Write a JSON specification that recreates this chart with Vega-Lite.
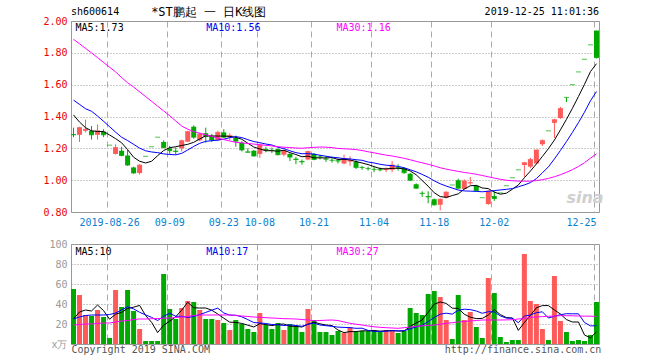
{
"$schema":"https://vega.github.io/schema/vega-lite/v6.json",
"background":"white",
"padding":{"left":0,"right":0,"top":5,"bottom":0},
"config":{"font":"DejaVu Sans Mono","view":{"stroke":"#999","strokeWidth":1},"axis":{"ticks":false,"domain":false,"labelFont":"DejaVu Sans Mono","labelFontSize":10,"gridOpacity":1,"labelOverlap":false},"concat":{"spacing":0}},
"datasets":{"k":[
{"d":"2019-08-16","o":1.29,"h":1.33,"l":1.27,"c":1.285,"v":55,"m5":1.41,"m10":1.503,"m30":1.885,"vm5":25,"vm10":25,"vm30":19},
{"d":"2019-08-19","o":1.285,"h":1.335,"l":1.24,"c":1.33,"v":49,"m5":1.365,"m10":1.476,"m30":1.857,"vm5":32,"vm10":27,"vm30":19.5},
{"d":"2019-08-20","o":1.31,"h":1.38,"l":1.3,"c":1.32,"v":29,"m5":1.33,"m10":1.449,"m30":1.828,"vm5":34,"vm10":28.5,"vm30":20},
{"d":"2019-08-21","o":1.31,"h":1.34,"l":1.255,"c":1.285,"v":28,"m5":1.31,"m10":1.433,"m30":1.8,"vm5":33,"vm10":29,"vm30":20},
{"d":"2019-08-22","o":1.285,"h":1.35,"l":1.255,"c":1.31,"v":34,"m5":1.306,"m10":1.403,"m30":1.77,"vm5":39,"vm10":29,"vm30":20.5},
{"d":"2019-08-23","o":1.305,"h":1.32,"l":1.27,"c":1.285,"v":27,"m5":1.306,"m10":1.37,"m30":1.74,"vm5":33.4,"vm10":29,"vm30":21},
{"d":"2019-08-26","o":1.22,"h":1.22,"l":1.22,"c":1.22,"v":6,"m5":1.284,"m10":1.336,"m30":1.71,"vm5":24.8,"vm10":29.5,"vm30":21},
{"d":"2019-08-27","o":1.165,"h":1.225,"l":1.16,"c":1.205,"v":54,"m5":1.261,"m10":1.302,"m30":1.68,"vm5":29.8,"vm10":31,"vm30":22},
{"d":"2019-08-28","o":1.185,"h":1.21,"l":1.15,"c":1.155,"v":37,"m5":1.235,"m10":1.27,"m30":1.645,"vm5":31.6,"vm10":34,"vm30":23},
{"d":"2019-08-29","o":1.155,"h":1.19,"l":1.09,"c":1.095,"v":54,"m5":1.192,"m10":1.249,"m30":1.612,"vm5":35.6,"vm10":37.3,"vm30":23.5},
{"d":"2019-08-30","o":1.08,"h":1.085,"l":1.04,"c":1.045,"v":33,"m5":1.144,"m10":1.225,"m30":1.585,"vm5":36.8,"vm10":35.1,"vm30":24.5},
{"d":"2019-09-02","o":1.045,"h":1.1,"l":1.035,"c":1.095,"v":15,"m5":1.119,"m10":1.2015,"m30":1.555,"vm5":38.6,"vm10":31.7,"vm30":25},
{"d":"2019-09-03","o":1.15,"h":1.15,"l":1.15,"c":1.15,"v":3,"m5":1.108,"m10":1.1845,"m30":1.525,"vm5":28.4,"vm10":29.1,"vm30":25},
{"d":"2019-09-04","o":1.21,"h":1.21,"l":1.21,"c":1.21,"v":3,"m5":1.119,"m10":1.177,"m30":1.495,"vm5":21.6,"vm10":26.6,"vm30":25.3},
{"d":"2019-09-05","o":1.27,"h":1.27,"l":1.27,"c":1.27,"v":3,"m5":1.154,"m10":1.173,"m30":1.465,"vm5":11.4,"vm10":23.5,"vm30":25.5},
{"d":"2019-09-06","o":1.24,"h":1.25,"l":1.2,"c":1.205,"v":70,"m5":1.186,"m10":1.165,"m30":1.435,"vm5":18.8,"vm10":27.8,"vm30":25.7},
{"d":"2019-09-09","o":1.2,"h":1.215,"l":1.165,"c":1.185,"v":35,"m5":1.204,"m10":1.1615,"m30":1.405,"vm5":22.8,"vm10":30.7,"vm30":26},
{"d":"2019-09-10","o":1.185,"h":1.205,"l":1.16,"c":1.18,"v":25,"m5":1.21,"m10":1.159,"m30":1.372,"vm5":27.2,"vm10":27.8,"vm30":26.5},
{"d":"2019-09-11","o":1.2,"h":1.255,"l":1.18,"c":1.248,"v":36,"m5":1.218,"m10":1.1685,"m30":1.34,"vm5":33.8,"vm10":27.7,"vm30":27},
{"d":"2019-09-12","o":1.242,"h":1.31,"l":1.24,"c":1.305,"v":43,"m5":1.225,"m10":1.1895,"m30":1.32,"vm5":41.8,"vm10":26.6,"vm30":27.5},
{"d":"2019-09-16","o":1.336,"h":1.345,"l":1.26,"c":1.27,"v":42,"m5":1.238,"m10":1.212,"m30":1.305,"vm5":36.2,"vm10":27.5,"vm30":28.5},
{"d":"2019-09-17","o":1.25,"h":1.3,"l":1.245,"c":1.29,"v":34,"m5":1.259,"m10":1.2315,"m30":1.295,"vm5":36,"vm10":29.4,"vm30":29},
{"d":"2019-09-18","o":1.295,"h":1.33,"l":1.235,"c":1.275,"v":25,"m5":1.278,"m10":1.244,"m30":1.285,"vm5":36,"vm10":31.6,"vm30":29},
{"d":"2019-09-19","o":1.277,"h":1.29,"l":1.24,"c":1.252,"v":25,"m5":1.278,"m10":1.248,"m30":1.275,"vm5":33.8,"vm10":33.8,"vm30":29},
{"d":"2019-09-20","o":1.252,"h":1.31,"l":1.245,"c":1.3,"v":24,"m5":1.277,"m10":1.251,"m30":1.265,"vm5":30,"vm10":35.9,"vm30":29},
{"d":"2019-09-23","o":1.3,"h":1.32,"l":1.265,"c":1.27,"v":21,"m5":1.277,"m10":1.2575,"m30":1.255,"vm5":25.8,"vm10":31,"vm30":29},
{"d":"2019-09-24","o":1.27,"h":1.295,"l":1.25,"c":1.28,"v":14,"m5":1.275,"m10":1.267,"m30":1.246,"vm5":21.8,"vm10":28.9,"vm30":29},
{"d":"2019-09-25","o":1.265,"h":1.28,"l":1.21,"c":1.245,"v":24,"m5":1.269,"m10":1.2735,"m30":1.238,"vm5":21.6,"vm10":28.8,"vm30":28.5},
{"d":"2019-09-26","o":1.235,"h":1.245,"l":1.18,"c":1.19,"v":20,"m5":1.257,"m10":1.2675,"m30":1.234,"vm5":20.6,"vm10":27.2,"vm30":28},
{"d":"2019-09-27","o":1.18,"h":1.2,"l":1.175,"c":1.175,"v":15,"m5":1.232,"m10":1.2545,"m30":1.231,"vm5":18.8,"vm10":24.4,"vm30":27.5},
{"d":"2019-09-30","o":1.185,"h":1.19,"l":1.148,"c":1.152,"v":12,"m5":1.208,"m10":1.2425,"m30":1.2266,"vm5":17,"vm10":21.4,"vm30":27},
{"d":"2019-10-08","o":1.165,"h":1.23,"l":1.14,"c":1.22,"v":31,"m5":1.196,"m10":1.2355,"m30":1.2229,"vm5":20.4,"vm10":21.1,"vm30":26.7},
{"d":"2019-10-09","o":1.195,"h":1.21,"l":1.175,"c":1.19,"v":19,"m5":1.185,"m10":1.227,"m30":1.2186,"vm5":19.4,"vm10":20.5,"vm30":26.3},
{"d":"2019-10-10","o":1.19,"h":1.205,"l":1.17,"c":1.187,"v":15,"m5":1.185,"m10":1.221,"m30":1.2153,"vm5":18.4,"vm10":19.5,"vm30":26},
{"d":"2019-10-11","o":1.195,"h":1.2,"l":1.155,"c":1.16,"v":21,"m5":1.182,"m10":1.207,"m30":1.2103,"vm5":19.6,"vm10":19.2,"vm30":25.7},
{"d":"2019-10-14","o":1.16,"h":1.19,"l":1.15,"c":1.185,"v":14,"m5":1.188,"m10":1.198,"m30":1.207,"vm5":20,"vm10":18.5,"vm30":25.3},
{"d":"2019-10-15","o":1.165,"h":1.17,"l":1.12,"c":1.145,"v":20,"m5":1.173,"m10":1.1845,"m30":1.2045,"vm5":17.8,"vm10":19.1,"vm30":25.2},
{"d":"2019-10-16","o":1.135,"h":1.147,"l":1.1,"c":1.13,"v":18,"m5":1.161,"m10":1.173,"m30":1.202,"vm5":17.6,"vm10":18.5,"vm30":25},
{"d":"2019-10-17","o":1.12,"h":1.13,"l":1.097,"c":1.115,"v":12,"m5":1.147,"m10":1.166,"m30":1.2006,"vm5":17,"vm10":17.7,"vm30":24.5},
{"d":"2019-10-18","o":1.13,"h":1.185,"l":1.125,"c":1.18,"v":35,"m5":1.151,"m10":1.1665,"m30":1.2035,"vm5":19.8,"vm10":19.7,"vm30":24},
{"d":"2019-10-21","o":1.165,"h":1.17,"l":1.125,"c":1.13,"v":24,"m5":1.14,"m10":1.164,"m30":1.2063,"vm5":21.8,"vm10":20.9,"vm30":23.3},
{"d":"2019-10-22","o":1.148,"h":1.16,"l":1.13,"c":1.145,"v":12,"m5":1.14,"m10":1.1565,"m30":1.208,"vm5":20.2,"vm10":19,"vm30":23.5},
{"d":"2019-10-23","o":1.135,"h":1.15,"l":1.115,"c":1.132,"v":12,"m5":1.14,"m10":1.1505,"m30":1.2074,"vm5":19,"vm10":18.3,"vm30":23.8},
{"d":"2019-10-24","o":1.127,"h":1.14,"l":1.11,"c":1.125,"v":9,"m5":1.142,"m10":1.1445,"m30":1.2045,"vm5":18.4,"vm10":17.7,"vm30":24},
{"d":"2019-10-25","o":1.124,"h":1.135,"l":1.105,"c":1.12,"v":13,"m5":1.13,"m10":1.1405,"m30":1.1995,"vm5":14,"vm10":16.9,"vm30":23.5},
{"d":"2019-10-28","o":1.105,"h":1.16,"l":1.1,"c":1.135,"v":11,"m5":1.131,"m10":1.1355,"m30":1.1972,"vm5":11.4,"vm10":16.6,"vm30":22},
{"d":"2019-10-29","o":1.118,"h":1.15,"l":1.09,"c":1.123,"v":17,"m5":1.127,"m10":1.1335,"m30":1.1951,"vm5":12.4,"vm10":16.3,"vm30":20.7},
{"d":"2019-10-30","o":1.115,"h":1.125,"l":1.07,"c":1.08,"v":12,"m5":1.117,"m10":1.1285,"m30":1.1918,"vm5":12.4,"vm10":15.7,"vm30":19.8},
{"d":"2019-10-31","o":1.082,"h":1.09,"l":1.065,"c":1.08,"v":13,"m5":1.108,"m10":1.125,"m30":1.1862,"vm5":13.2,"vm10":15.8,"vm30":19},
{"d":"2019-11-01","o":1.075,"h":1.085,"l":1.06,"c":1.073,"v":13,"m5":1.098,"m10":1.114,"m30":1.1785,"vm5":13.2,"vm10":13.6,"vm30":18},
{"d":"2019-11-04","o":1.07,"h":1.085,"l":1.05,"c":1.068,"v":13,"m5":1.085,"m10":1.108,"m30":1.1717,"vm5":13.6,"vm10":12.5,"vm30":17.2},
{"d":"2019-11-05","o":1.068,"h":1.08,"l":1.055,"c":1.065,"v":13,"m5":1.073,"m10":1.1,"m30":1.1642,"vm5":12.8,"vm10":12.6,"vm30":16.7},
{"d":"2019-11-06","o":1.065,"h":1.08,"l":1.05,"c":1.07,"v":14,"m5":1.071,"m10":1.094,"m30":1.1574,"vm5":13.2,"vm10":12.8,"vm30":16.3},
{"d":"2019-11-07","o":1.065,"h":1.12,"l":1.05,"c":1.095,"v":14,"m5":1.074,"m10":1.091,"m30":1.1522,"vm5":13.4,"vm10":13.3,"vm30":16},
{"d":"2019-11-08","o":1.08,"h":1.1,"l":1.06,"c":1.077,"v":11,"m5":1.075,"m10":1.0865,"m30":1.1447,"vm5":13,"vm10":13.1,"vm30":15.7},
{"d":"2019-11-11","o":1.075,"h":1.08,"l":1.04,"c":1.047,"v":13,"m5":1.071,"m10":1.078,"m30":1.1373,"vm5":13,"vm10":13.3,"vm30":16.3},
{"d":"2019-11-12","o":1.04,"h":1.045,"l":0.995,"c":1.0,"v":36,"m5":1.058,"m10":1.0655,"m30":1.128,"vm5":17.6,"vm10":15.2,"vm30":17},
{"d":"2019-11-13","o":0.975,"h":0.98,"l":0.945,"c":0.95,"v":31,"m5":1.034,"m10":1.0525,"m30":1.1181,"vm5":21,"vm10":17.1,"vm30":17.7},
{"d":"2019-11-14","o":0.92,"h":0.93,"l":0.895,"c":0.917,"v":29,"m5":0.998,"m10":1.036,"m30":1.109,"vm5":24,"vm10":18.7,"vm30":18.2},
{"d":"2019-11-15","o":0.9,"h":0.93,"l":0.855,"c":0.895,"v":50,"m5":0.962,"m10":1.0185,"m30":1.0997,"vm5":31.8,"vm10":22.4,"vm30":18.6},
{"d":"2019-11-18","o":0.88,"h":0.885,"l":0.84,"c":0.845,"v":53,"m5":0.921,"m10":0.996,"m30":1.0895,"vm5":39.8,"vm10":26.4,"vm30":19},
{"d":"2019-11-19","o":0.845,"h":0.885,"l":0.81,"c":0.88,"v":47,"m5":0.897,"m10":0.9775,"m30":1.0781,"vm5":42,"vm10":29.8,"vm30":19.8},
{"d":"2019-11-20","o":0.89,"h":0.93,"l":0.885,"c":0.925,"v":24,"m5":0.892,"m10":0.963,"m30":1.0693,"vm5":40.6,"vm10":30.8,"vm30":20.7},
{"d":"2019-11-21","o":0.97,"h":0.97,"l":0.97,"c":0.97,"v":5,"m5":0.903,"m10":0.9505,"m30":1.0621,"vm5":35.8,"vm10":29.9,"vm30":21.3},
{"d":"2019-11-22","o":1.0,"h":1.01,"l":0.945,"c":0.95,"v":49,"m5":0.914,"m10":0.938,"m30":1.0551,"vm5":35.6,"vm10":33.7,"vm30":22},
{"d":"2019-11-25","o":0.945,"h":1.005,"l":0.94,"c":0.995,"v":24,"m5":0.944,"m10":0.9325,"m30":1.0487,"vm5":29.8,"vm10":34.8,"vm30":22.5},
{"d":"2019-11-26","o":0.98,"h":1.02,"l":0.97,"c":0.985,"v":32,"m5":0.965,"m10":0.931,"m30":1.0434,"vm5":26.8,"vm10":34.4,"vm30":23},
{"d":"2019-11-27","o":0.965,"h":0.97,"l":0.93,"c":0.935,"v":17,"m5":0.967,"m10":0.9295,"m30":1.0369,"vm5":25.4,"vm10":33,"vm30":23.5},
{"d":"2019-11-28","o":0.89,"h":0.89,"l":0.89,"c":0.89,"v":6,"m5":0.951,"m10":0.927,"m30":1.0294,"vm5":25.6,"vm10":30.7,"vm30":24},
{"d":"2019-11-29","o":0.85,"h":0.935,"l":0.845,"c":0.93,"v":66,"m5":0.947,"m10":0.9305,"m30":1.0211,"vm5":29,"vm10":32.3,"vm30":24},
{"d":"2019-12-02","o":0.9,"h":0.93,"l":0.87,"c":0.885,"v":51,"m5":0.925,"m10":0.9345,"m30":1.0129,"vm5":34.4,"vm10":32.1,"vm30":24},
{"d":"2019-12-03","o":0.92,"h":0.92,"l":0.92,"c":0.92,"v":7,"m5":0.912,"m10":0.9385,"m30":1.0054,"vm5":29.4,"vm10":28.1,"vm30":24},
{"d":"2019-12-04","o":0.965,"h":0.965,"l":0.965,"c":0.965,"v":2,"m5":0.918,"m10":0.9425,"m30":0.9998,"vm5":26.4,"vm10":25.9,"vm30":24.1},
{"d":"2019-12-05","o":1.015,"h":1.015,"l":1.015,"c":1.015,"v":4,"m5":0.943,"m10":0.947,"m30":0.9962,"vm5":26,"vm10":25.8,"vm30":24.3},
{"d":"2019-12-06","o":1.065,"h":1.065,"l":1.065,"c":1.065,"v":4,"m5":0.97,"m10":0.9585,"m30":0.9943,"vm5":13.6,"vm10":21.3,"vm30":25},
{"d":"2019-12-09","o":1.095,"h":1.115,"l":1.02,"c":1.11,"v":90,"m5":1.015,"m10":0.97,"m30":0.9935,"vm5":21.4,"vm10":27.9,"vm30":25.5},
{"d":"2019-12-10","o":1.085,"h":1.14,"l":1.075,"c":1.13,"v":43,"m5":1.057,"m10":0.9845,"m30":0.9937,"vm5":28.6,"vm10":29,"vm30":26.7},
{"d":"2019-12-11","o":1.105,"h":1.19,"l":1.1,"c":1.19,"v":40,"m5":1.102,"m10":1.01,"m30":0.9974,"vm5":36.2,"vm10":31.3,"vm30":27},
{"d":"2019-12-12","o":1.225,"h":1.255,"l":1.215,"c":1.25,"v":15,"m5":1.149,"m10":1.046,"m30":1.0031,"vm5":38.4,"vm10":32.2,"vm30":27.4},
{"d":"2019-12-13","o":1.31,"h":1.31,"l":1.31,"c":1.31,"v":4,"m5":1.198,"m10":1.084,"m30":1.011,"vm5":38.4,"vm10":26,"vm30":27.7},
{"d":"2019-12-16","o":1.36,"h":1.385,"l":1.265,"c":1.38,"v":68,"m5":1.252,"m10":1.1335,"m30":1.0214,"vm5":34,"vm10":27.7,"vm30":28},
{"d":"2019-12-17","o":1.39,"h":1.46,"l":1.385,"c":1.45,"v":23,"m5":1.316,"m10":1.1865,"m30":1.0342,"vm5":30,"vm10":29.3,"vm30":28.3},
{"d":"2019-12-18","o":1.52,"h":1.52,"l":1.49,"c":1.52,"v":12,"m5":1.382,"m10":1.242,"m30":1.0492,"vm5":24.4,"vm10":30.3,"vm30":28.3},
{"d":"2019-12-19","o":1.6,"h":1.6,"l":1.6,"c":1.6,"v":3,"m5":1.452,"m10":1.3005,"m30":1.066,"vm5":22,"vm10":30.2,"vm30":28.2},
{"d":"2019-12-20","o":1.68,"h":1.68,"l":1.68,"c":1.68,"v":4,"m5":1.526,"m10":1.362,"m30":1.0861,"vm5":22,"vm10":30.2,"vm30":28},
{"d":"2019-12-23","o":1.76,"h":1.76,"l":1.76,"c":1.76,"v":3,"m5":1.602,"m10":1.427,"m30":1.1099,"vm5":9,"vm10":21.5,"vm30":27.9},
{"d":"2019-12-24","o":1.85,"h":1.85,"l":1.85,"c":1.85,"v":9,"m5":1.682,"m10":1.499,"m30":1.1382,"vm5":6.2,"vm10":18.1,"vm30":27.8},
{"d":"2019-12-25","o":1.94,"h":1.94,"l":1.765,"c":1.77,"v":42,"m5":1.732,"m10":1.557,"m30":1.1656,"vm5":12.2,"vm10":18.3,"vm30":27.7}
]},
"vconcat":[
{
"width":528,"height":191,
"data":{"name":"k"},
"encoding":{"x":{"field":"d","type":"ordinal","sort":null,"scale":{"paddingInner":0.17,"paddingOuter":0},
  "axis":{"values":["2019-08-26","2019-09-09","2019-09-23","2019-10-08","2019-10-21","2019-11-04","2019-11-18","2019-12-02","2019-12-25"],"labelExpr":"datum.value == '2019-08-26' ? datum.value : slice(datum.value, 5)","bandPosition":0,"grid":true,"gridDash":[6,4],"gridColor":"#aaa","labelColor":"#0a7fd0","labelAngle":0,"labelFlush":10,"labelOverlap":false,"labelPadding":5,"title":null,"minExtent":25,"maxExtent":25}}},
"layer":[
 {"mark":{"type":"rule","strokeWidth":1},"encoding":{"y":{"field":"l","type":"quantitative","title":null,"scale":{"domain":[0.8,2.0],"nice":false,"zero":false},"axis":{"values":[0.8,1.0,1.2,1.4,1.6,1.8,2.0],"tickCount":20,"format":".2f","labelColor":"#ee0000","labelOverlap":false,"labelFlush":false,"grid":true,"gridDash":[1,2],"gridColor":"#999","labelPadding":4,"minExtent":70,"maxExtent":70,"title":null}},"y2":{"field":"h"},"color":{"condition":{"test":"datum.c > datum.o","value":"#ff5a5a"},"value":"#00a800"}}},
 {"mark":{"type":"bar"},"encoding":{"y":{"field":"o","type":"quantitative","title":null},"y2":{"field":"c"},"color":{"condition":{"test":"datum.c > datum.o","value":"#ff5a5a"},"value":"#00a800"}}},
 {"mark":{"type":"tick","thickness":1,"size":5},"encoding":{"y":{"field":"c","type":"quantitative","title":null},"color":{"condition":{"test":"datum.c > datum.o","value":"#ff5a5a"},"value":"#00a800"}}},
 {"mark":{"type":"line","color":"#000","strokeWidth":1},"encoding":{"y":{"field":"m5","type":"quantitative","title":null}}},
 {"mark":{"type":"line","color":"#0000ff","strokeWidth":1},"encoding":{"y":{"field":"m10","type":"quantitative","title":null}}},
 {"mark":{"type":"line","color":"#ff00ff","strokeWidth":1},"encoding":{"y":{"field":"m30","type":"quantitative","title":null}}},
 {"data":{"values":[{}]},"mark":{"type":"text","text":"sh600614","align":"left","baseline":"middle","dx":-2.5,"dy":-9,"font":"DejaVu Sans Mono","fontSize":10,"color":"#000"},"encoding":{"x":{"datum":"2019-08-16","type":"ordinal"},"y":{"datum":2.0,"type":"quantitative"}}},
 {"data":{"values":[{}]},"mark":{"type":"text","text":"*ST鹏起\u00a0一\u00a0日K线图","align":"left","baseline":"middle","dx":-0.5,"dy":-9,"font":"DejaVu Sans Mono","fontSize":12,"color":"#000"},"encoding":{"x":{"datum":"2019-09-04","type":"ordinal"},"y":{"datum":2.0,"type":"quantitative"}}},
 {"data":{"values":[{}]},"mark":{"type":"text","text":"2019-12-25 11:01:36","align":"right","baseline":"middle","dx":2.5,"dy":-9,"font":"DejaVu Sans Mono","fontSize":10,"color":"#000"},"encoding":{"x":{"datum":"2019-12-25","type":"ordinal"},"y":{"datum":2.0,"type":"quantitative"}}},
 {"data":{"values":[{}]},"mark":{"type":"text","text":"MA5:1.73","align":"left","baseline":"top","dx":2,"dy":2,"font":"DejaVu Sans Mono","fontSize":10,"color":"#000"},"encoding":{"x":{"datum":"2019-08-16","type":"ordinal"},"y":{"datum":2.0,"type":"quantitative"}}},
 {"data":{"values":[{}]},"mark":{"type":"text","text":"MA10:1.56","align":"left","baseline":"top","dx":0.5,"dy":2,"font":"DejaVu Sans Mono","fontSize":10,"color":"#0000ee"},"encoding":{"x":{"datum":"2019-09-18","type":"ordinal"},"y":{"datum":2.0,"type":"quantitative"}}},
 {"data":{"values":[{}]},"mark":{"type":"text","text":"MA30:1.16","align":"left","baseline":"top","dx":-1.5,"dy":2,"font":"DejaVu Sans Mono","fontSize":10,"color":"#ff00ff"},"encoding":{"x":{"datum":"2019-10-25","type":"ordinal"},"y":{"datum":2.0,"type":"quantitative"}}},
 {"data":{"values":[{}]},"mark":{"type":"text","text":"sina","align":"left","baseline":"alphabetic","font":"DejaVu Sans","fontSize":16,"fontStyle":"italic","fontWeight":"bold","color":"#cfcfcf"},"encoding":{"x":{"datum":"2019-12-18","type":"ordinal"},"y":{"datum":0.857,"type":"quantitative"}}}
]
},
{
"width":528,"height":100,
"data":{"name":"k"},
"encoding":{"x":{"field":"d","type":"ordinal","sort":null,"scale":{"paddingInner":0.17,"paddingOuter":0},
  "axis":{"values":["2019-08-26","2019-09-09","2019-09-23","2019-10-08","2019-10-21","2019-11-04","2019-11-18","2019-12-02","2019-12-25"],"bandPosition":0,"grid":true,"gridDash":[6,4],"gridColor":"#aaa","labels":false,"title":"Copyright 2019 SINA.COM\u00a0\u00a0\u00a0\u00a0\u00a0\u00a0\u00a0\u00a0\u00a0\u00a0\u00a0\u00a0\u00a0\u00a0\u00a0\u00a0\u00a0\u00a0\u00a0\u00a0\u00a0\u00a0\u00a0\u00a0\u00a0\u00a0\u00a0\u00a0\u00a0\u00a0\u00a0\u00a0\u00a0\u00a0\u00a0\u00a0\u00a0\u00a0\u00a0http://finance.sina.com.cn","titleFont":"DejaVu Sans Mono","titleFontSize":10,"titleFontWeight":"normal","titleColor":"#555","titleAnchor":"start","titlePadding":0}}},
"layer":[
 {"mark":{"type":"bar"},"encoding":{"y":{"field":"v","type":"quantitative","title":null,"scale":{"domain":[0,100],"nice":false},"axis":{"values":[0,20,40,60,80,100],"tickCount":20,"labelExpr":"datum.value == 0 ? 'x万' : datum.label","labelColor":"#999","labelOverlap":false,"labelFlush":false,"grid":true,"gridDash":[1,2],"gridColor":"#999","labelPadding":4,"minExtent":70,"maxExtent":70,"title":null}},"color":{"condition":{"test":"datum.c > datum.o","value":"#ff5a5a"},"value":"#00a800"}}},
 {"mark":{"type":"line","color":"#000","strokeWidth":1},"encoding":{"y":{"field":"vm5","type":"quantitative","title":null}}},
 {"mark":{"type":"line","color":"#0000ff","strokeWidth":1},"encoding":{"y":{"field":"vm10","type":"quantitative","title":null}}},
 {"mark":{"type":"line","color":"#ff00ff","strokeWidth":1},"encoding":{"y":{"field":"vm30","type":"quantitative","title":null}}},
 {"data":{"values":[{}]},"mark":{"type":"text","text":"MA5:10","align":"left","baseline":"top","dx":2,"dy":3,"font":"DejaVu Sans Mono","fontSize":10,"color":"#000"},"encoding":{"x":{"datum":"2019-08-16","type":"ordinal"},"y":{"datum":100,"type":"quantitative"}}},
 {"data":{"values":[{}]},"mark":{"type":"text","text":"MA10:17","align":"left","baseline":"top","dx":0.5,"dy":3,"font":"DejaVu Sans Mono","fontSize":10,"color":"#0000ee"},"encoding":{"x":{"datum":"2019-09-18","type":"ordinal"},"y":{"datum":100,"type":"quantitative"}}},
 {"data":{"values":[{}]},"mark":{"type":"text","text":"MA30:27","align":"left","baseline":"top","dx":-1.5,"dy":3,"font":"DejaVu Sans Mono","fontSize":10,"color":"#ff00ff"},"encoding":{"x":{"datum":"2019-10-25","type":"ordinal"},"y":{"datum":100,"type":"quantitative"}}}
]
}
]
}
